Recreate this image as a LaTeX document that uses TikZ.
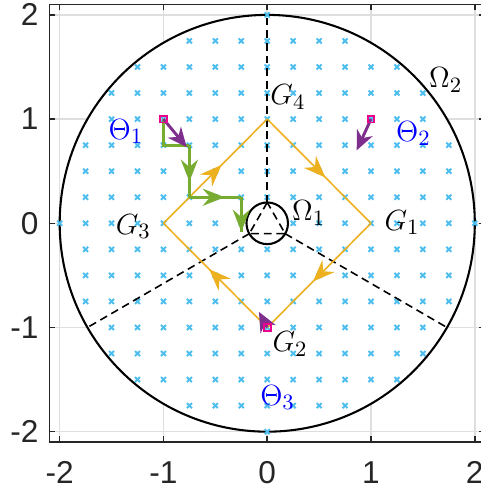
\documentclass[tikz,border=0pt]{standalone}
\usepackage{fontspec}
\newfontfamily\ticksf{Liberation Sans}
\usepackage{xcolor}
\usepackage{tikz}
\usetikzlibrary{arrows.meta,decorations.markings}
\definecolor{mlcyan}{RGB}{77,190,238}
\definecolor{mlorange}{RGB}{237,177,32}
\definecolor{mlgreen}{RGB}{119,172,48}
\definecolor{mlpurple}{RGB}{126,47,142}
\tikzset{
  gridline/.style={draw=black!13, line width=0.6pt},
  axisbox/.style={draw=black!85, line width=0.6pt},
  ticklabel/.style={inner sep=0pt, font=\ticksf\fontsize{13}{15}\selectfont, text=black!85},
  regionline/.style={draw=black, line width=0.85pt},
  cutline/.style={draw=black, line width=0.65pt, dash pattern=on 3.2pt off 2pt},
  samplemark/.style={draw=mlcyan, line width=0.8pt},
  boundary/.style={draw=mlorange, line width=0.65pt, postaction={decorate},
    decoration={markings, mark=at position #1 with {\arrow[mlorange]{Stealth[length=9pt,width=7pt,inset=3pt]}}}},
  boundary/.default=0.56,
  stepline/.style={draw=mlgreen, line width=1.2pt},
  steparrow/.style={stepline, postaction={decorate},
    decoration={markings, mark=at position #1 with {\arrow[mlgreen]{Stealth[length=9pt,width=7pt,inset=3pt]}}}},
  descent/.style={draw=mlpurple, line width=1.2pt, -{Stealth[length=8pt,width=7pt,inset=2.5pt]}},
  startmark/.style={draw=magenta, line width=0.8pt, minimum size=2.8pt, inner sep=0pt},
  glabel/.style={inner sep=0pt, font=\fontsize{12.7}{15}\selectfont},
  thetalabel/.style={glabel, text=blue},
}

\begin{document}
\begin{tikzpicture}[x=1.5cm,y=1.506cm]
  \useasboundingbox (-2.575,-2.579) rectangle (2.059,2.143);

  % grid and axes
  \foreach \v in {-2,...,2} {
    \draw[gridline] (\v,-2.1) -- (\v,2.1);
    \draw[gridline] (-2.1,\v) -- (2.1,\v);
  }
  \draw[regionline, fill=white] (0,0) circle[radius=2];
  \draw[axisbox] (-2.1,-2.1) rectangle (2.1,2.1);
  \foreach \v [count=\k] in {-2,...,2} {
    \draw[axisbox] (\v,-2.1) -- ++(0,0.055);
    \draw[axisbox] (\v,2.1) -- ++(0,-0.055);
    \draw[axisbox] (-2.1,\v) -- ++(0.055,0);
    \draw[axisbox] (2.1,\v) -- ++(-0.055,0);
    \node[ticklabel, anchor=east] (ylab\k) at (-2.2,\v) {\v};
    \node[ticklabel, anchor=north] (xlab\k) at (\v,-2.285) {\v};
  }

  % sample points
  \foreach \i in {-8,...,8} {
    \foreach \j in {-8,...,8} {
      \pgfmathtruncatemacro\rr{\i*\i+\j*\j}
      \ifnum\rr<65 \ifnum\rr>0
        \draw[samplemark] (\i/4-0.024,\j/4-0.024) -- ++(0.048,0.048)
                          (\i/4-0.024,\j/4+0.024) -- ++(0.048,-0.048);
      \fi\fi
    }
  }

  % inner region and cuts
  \coordinate (v1) at (90:0.2);
  \coordinate (v2) at (210:0.2);
  \coordinate (v3) at (330:0.2);
  \coordinate (e1) at (90:2);
  \coordinate (e2) at (210:2);
  \coordinate (e3) at (330:2);
  \draw[cutline] (v1) -- (v2) -- (v3) -- cycle;
  \draw[cutline] (v1) -- (e1);
  \draw[cutline] (v2) -- (e2);
  \draw[cutline] (v3) -- (e3);
  \draw[regionline] (0,0) circle[radius=0.2];

  % gate square
  \coordinate (g1) at (1,0);
  \coordinate (g2) at (0,-1);
  \coordinate (g3) at (-1,0);
  \coordinate (g4) at (0,1);
  \draw[boundary] (g3) -- (g4);
  \draw[boundary] (g4) -- (g1);
  \draw[boundary] (g1) -- (g2);
  \draw[boundary] (g2) -- (g3);

  % path from Theta_1
  \coordinate (s0) at (-1,1);
  \coordinate (s1) at (-1,0.75);
  \coordinate (s2) at (-0.75,0.75);
  \coordinate (s3) at (-0.75,0.25);
  \coordinate (s4) at (-0.25,0.25);
  \coordinate (s5) at (-0.25,-0.08);
  \draw[stepline] (s0) -- (s1) -- (s2);
  \draw[steparrow=0.7] (s2) -- (s3);
  \draw[steparrow=0.68] (s3) -- (s4);
  \draw[steparrow=1] (s4) -- (s5);

  % descent directions
  \coordinate (q0) at (1,1);
  \coordinate (t1) at (-0.775,0.73);
  \coordinate (t2) at (0.862,0.70);
  \coordinate (t3) at (-0.08,-0.85);
  \draw[descent] (s0) -- (t1);
  \draw[descent] (q0) -- (t2);
  \draw[descent] (g2) -- (t3);
  \node[startmark] (m1) at (s0) {};
  \node[startmark] (m2) at (q0) {};
  \node[startmark] (m3) at (g2) {};

  % labels
  \node[glabel] (lblG1) at (1.30,0.01) {$G_1$};
  \node[glabel] (lblG2) at (0.22,-1.16) {$G_2$};
  \node[glabel] (lblG3) at (-1.29,-0.03) {$G_3$};
  \node[glabel] (lblG4) at (0.20,1.21) {$G_4$};
  \node[glabel] (lblO1) at (0.40,0.10) {$\Omega_1$};
  \node[glabel] (lblO2) at (1.72,1.375) {$\Omega_2$};
  \node[thetalabel] (lblT1) at (-1.36,0.88) {$\Theta_1$};
  \node[thetalabel] (lblT2) at (1.41,0.86) {$\Theta_2$};
  \node[thetalabel] (lblT3) at (0.10,-1.67) {$\Theta_3$};
\end{tikzpicture}
\end{document}
